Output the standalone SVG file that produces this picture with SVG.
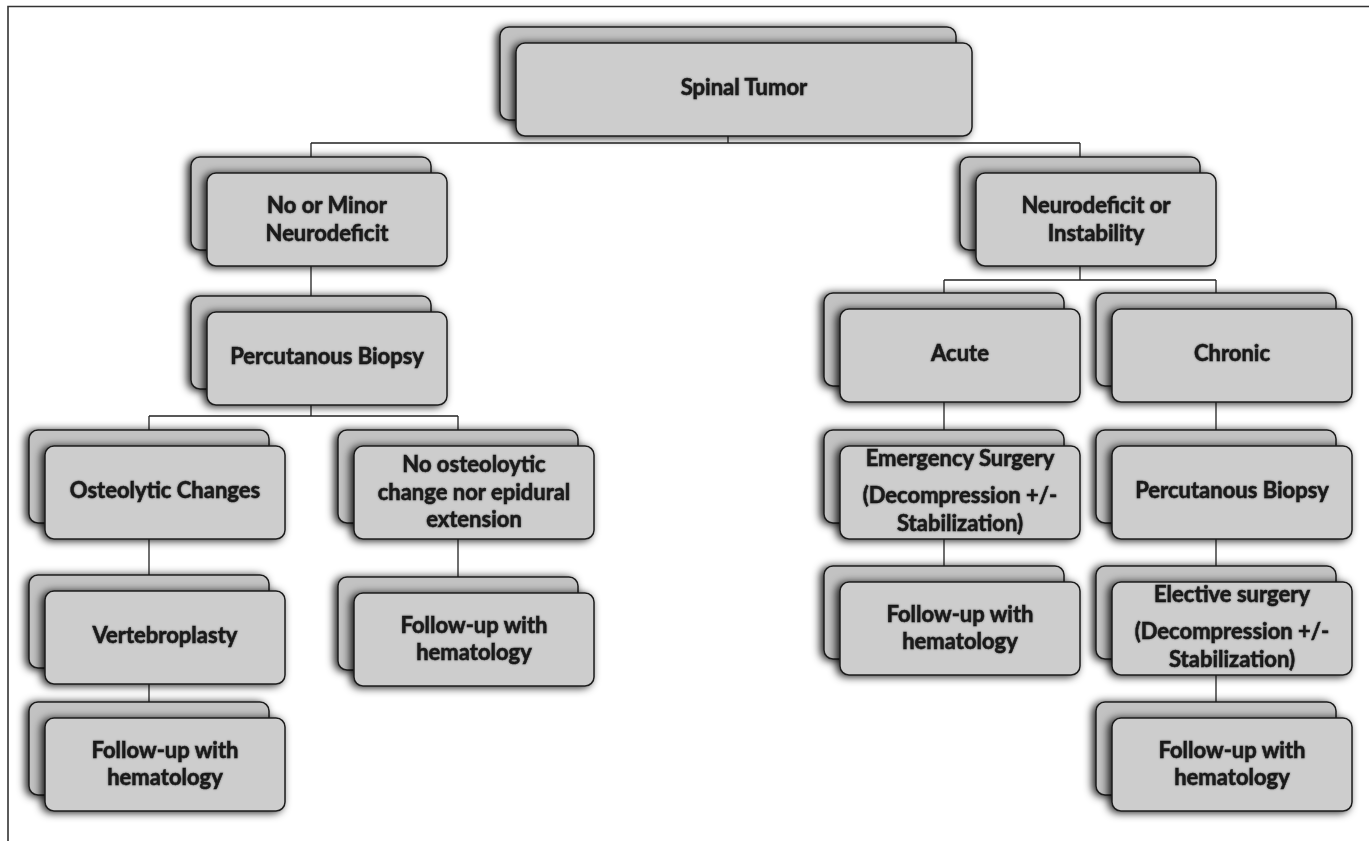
<svg xmlns="http://www.w3.org/2000/svg" width="1369" height="841" viewBox="0 0 1369 841">
<defs>
<filter id="sh" x="-20%" y="-30%" width="140%" height="160%">
<feDropShadow dx="-3" dy="1" stdDeviation="4" flood-color="#000" flood-opacity="0.9"/>
</filter>
<filter id="ts" x="-5%" y="-20%" width="110%" height="140%">
<feDropShadow dx="0" dy="0" stdDeviation="0.8" flood-color="#000" flood-opacity="0.45"/>
</filter>
<style>
.back{fill:#c2c2c2;stroke:#1e1e1e;stroke-width:1.5;filter:url(#sh)}
.front{fill:#cdcdcd;stroke:#1e1e1e;stroke-width:1.5;filter:url(#sh)}
.t{font-family:Lato,"Liberation Sans",Arial,sans-serif;font-weight:bold;font-size:22px;fill:#1a1a1a;stroke:#1a1a1a;stroke-width:0.5;text-anchor:middle;filter:url(#ts)}
.c{fill:none;stroke:#222;stroke-width:1.3}
.frame{fill:none;stroke:#333;stroke-width:1.6}
</style>
</defs>
<rect width="1369" height="841" fill="#fff"/>
<path class="frame" d="M8,841 V6.5 H1369"/>
<g id="connectors">
<path class="c" d="M728,136 V143 M311,143 H1080 M311,143 V157 M1080,143 V157
M311,266 V296
M311,405 V416 M149,416 H458 M149,416 V430 M458,416 V430
M149,539 V575 M149,684 V702
M458,539 V577
M1080,266 V280 M944,280 H1216 M944,280 V293 M1216,280 V293
M944,402 V430 M944,539 V566
M1216,402 V430 M1216,539 V566 M1216,675 V702"/>
</g>
<g id="n-spinal">
<rect class="back" x="500" y="27" width="456" height="93" rx="9"/>
<rect class="front" x="516" y="43" width="456" height="93" rx="9"/>
<text class="t" x="744" y="95">Spinal Tumor</text>
</g>
<g id="n-nominor">
<rect class="back" x="191" y="157" width="240" height="93" rx="9"/>
<rect class="front" x="207" y="173" width="240" height="93" rx="9"/>
<text class="t" x="327" y="213">No or Minor</text>
<text class="t" x="327" y="241">Neurodeficit</text>
</g>
<g id="n-percL">
<rect class="back" x="191" y="296" width="240" height="93" rx="9"/>
<rect class="front" x="207" y="312" width="240" height="93" rx="9"/>
<text class="t" x="327" y="364">Percutanous Biopsy</text>
</g>
<g id="n-osteo">
<rect class="back" x="29" y="430" width="240" height="93" rx="9"/>
<rect class="front" x="45" y="446" width="240" height="93" rx="9"/>
<text class="t" x="165" y="498">Osteolytic Changes</text>
</g>
<g id="n-noosteo">
<rect class="back" x="338" y="430" width="240" height="93" rx="9"/>
<rect class="front" x="354" y="446" width="240" height="93" rx="9"/>
<text class="t" x="474" y="472">No osteoloytic</text>
<text class="t" x="474" y="500">change nor epidural</text>
<text class="t" x="474" y="527">extension</text>
</g>
<g id="n-vertebro">
<rect class="back" x="29" y="575" width="240" height="93" rx="9"/>
<rect class="front" x="45" y="591" width="240" height="93" rx="9"/>
<text class="t" x="165" y="643">Vertebroplasty</text>
</g>
<g id="n-fuL">
<rect class="back" x="29" y="702" width="240" height="93" rx="9"/>
<rect class="front" x="45" y="718" width="240" height="93" rx="9"/>
<text class="t" x="165" y="758">Follow-up with</text>
<text class="t" x="165" y="785">hematology</text>
</g>
<g id="n-fuM">
<rect class="back" x="338" y="577" width="240" height="93" rx="9"/>
<rect class="front" x="354" y="593" width="240" height="93" rx="9"/>
<text class="t" x="474" y="633">Follow-up with</text>
<text class="t" x="474" y="660">hematology</text>
</g>
<g id="n-neuro">
<rect class="back" x="960" y="157" width="240" height="93" rx="9"/>
<rect class="front" x="976" y="173" width="240" height="93" rx="9"/>
<text class="t" x="1096" y="213">Neurodeficit or</text>
<text class="t" x="1096" y="241">Instability</text>
</g>
<g id="n-acute">
<rect class="back" x="824" y="293" width="240" height="93" rx="9"/>
<rect class="front" x="840" y="309" width="240" height="93" rx="9"/>
<text class="t" x="960" y="361">Acute</text>
</g>
<g id="n-chronic">
<rect class="back" x="1096" y="293" width="240" height="93" rx="9"/>
<rect class="front" x="1112" y="309" width="240" height="93" rx="9"/>
<text class="t" x="1232" y="361">Chronic</text>
</g>
<g id="n-emerg">
<rect class="back" x="824" y="430" width="240" height="93" rx="9"/>
<rect class="front" x="840" y="446" width="240" height="93" rx="9"/>
<text class="t" x="960" y="466">Emergency Surgery</text>
<text class="t" x="960" y="503">(Decompression +/-</text>
<text class="t" x="960" y="531">Stabilization)</text>
</g>
<g id="n-percR">
<rect class="back" x="1096" y="430" width="240" height="93" rx="9"/>
<rect class="front" x="1112" y="446" width="240" height="93" rx="9"/>
<text class="t" x="1232" y="498">Percutanous Biopsy</text>
</g>
<g id="n-fuA">
<rect class="back" x="824" y="566" width="240" height="93" rx="9"/>
<rect class="front" x="840" y="582" width="240" height="93" rx="9"/>
<text class="t" x="960" y="622">Follow-up with</text>
<text class="t" x="960" y="649">hematology</text>
</g>
<g id="n-elective">
<rect class="back" x="1096" y="566" width="240" height="93" rx="9"/>
<rect class="front" x="1112" y="582" width="240" height="93" rx="9"/>
<text class="t" x="1232" y="602">Elective surgery</text>
<text class="t" x="1232" y="639">(Decompression +/-</text>
<text class="t" x="1232" y="667">Stabilization)</text>
</g>
<g id="n-fuR">
<rect class="back" x="1096" y="702" width="240" height="93" rx="9"/>
<rect class="front" x="1112" y="718" width="240" height="93" rx="9"/>
<text class="t" x="1232" y="758">Follow-up with</text>
<text class="t" x="1232" y="785">hematology</text>
</g>
</svg>
